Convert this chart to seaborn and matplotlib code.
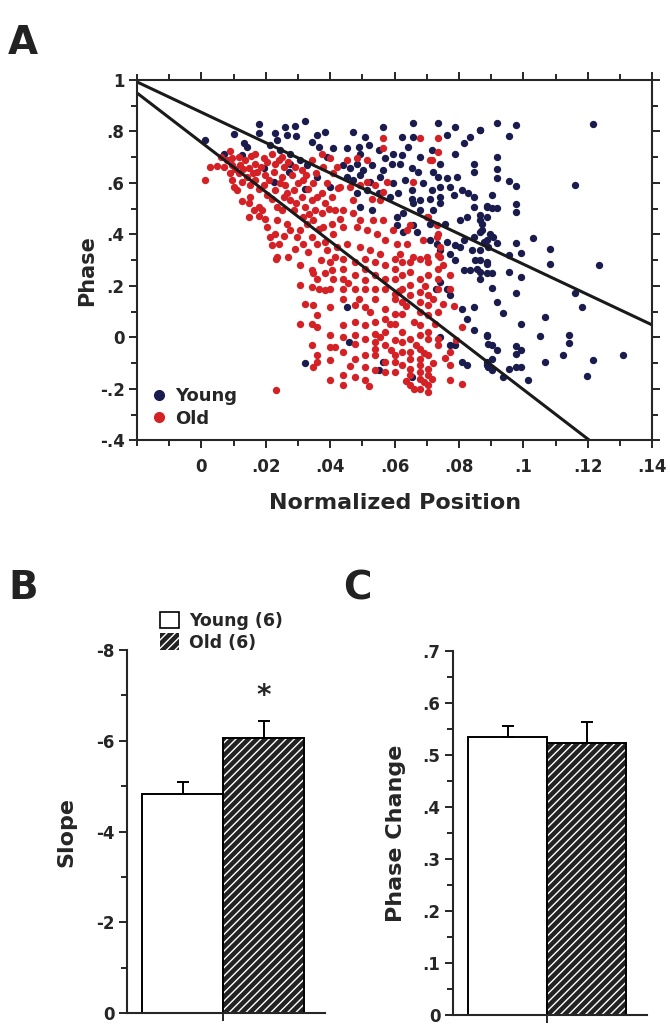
import numpy as np
import pandas as pd
import matplotlib
matplotlib.use("Agg")
import matplotlib.pyplot as plt
from matplotlib.ticker import MultipleLocator, FuncFormatter
from matplotlib.patches import Rectangle, Patch
from matplotlib.lines import Line2D
import seaborn as sns

# ---- panel A: phase vs normalized position ----
young_points = [
    (0.0012, 0.766), (0.0069, 0.714), (0.0100, 0.790), (0.0131, 0.753), (0.0142, 0.740), (0.0126, 0.708),
    (0.0178, 0.829), (0.0178, 0.795), (0.0214, 0.747), (0.0230, 0.795), (0.0235, 0.766), (0.0261, 0.818),
    (0.0266, 0.786), (0.0291, 0.821), (0.0295, 0.782), (0.0322, 0.842), (0.0276, 0.714), (0.0276, 0.675),
    (0.0245, 0.727), (0.0359, 0.786), (0.0385, 0.799), (0.0343, 0.760), (0.0364, 0.740), (0.0193, 0.656),
    (0.0224, 0.604), (0.0271, 0.643), (0.0322, 0.578), (0.0307, 0.688), (0.0328, 0.669), (0.0390, 0.701),
    (0.0410, 0.734), (0.0359, 0.624), (0.0400, 0.585),
    (0.0472, 0.799), (0.0509, 0.779), (0.0565, 0.818), (0.0622, 0.779), (0.0658, 0.831), (0.0658, 0.779),
    (0.0736, 0.831), (0.0762, 0.786), (0.0788, 0.818), (0.0834, 0.779), (0.0865, 0.805),
    (0.0452, 0.734), (0.0488, 0.740), (0.0493, 0.714), (0.0519, 0.747), (0.0550, 0.727), (0.0571, 0.695),
    (0.0596, 0.714), (0.0622, 0.708), (0.0643, 0.740), (0.0679, 0.701), (0.0715, 0.727), (0.0741, 0.675),
    (0.0788, 0.714), (0.0814, 0.753), (0.0845, 0.675), (0.0845, 0.643),
    (0.0441, 0.669), (0.0462, 0.656), (0.0483, 0.675), (0.0503, 0.650), (0.0529, 0.669), (0.0565, 0.650),
    (0.0591, 0.675), (0.0617, 0.675), (0.0653, 0.656), (0.0674, 0.643), (0.0720, 0.643), (0.0736, 0.624),
    (0.0762, 0.617), (0.0793, 0.624),
    (0.0452, 0.624), (0.0472, 0.611), (0.0493, 0.630), (0.0524, 0.604), (0.0555, 0.624), (0.0596, 0.598),
    (0.0633, 0.611), (0.0653, 0.572), (0.0689, 0.598), (0.0715, 0.572), (0.0741, 0.585), (0.0772, 0.585),
    (0.0808, 0.572), (0.0829, 0.559),
    (0.0483, 0.559), (0.0514, 0.572), (0.0550, 0.559), (0.0586, 0.546), (0.0612, 0.559), (0.0653, 0.539),
    (0.0679, 0.533), (0.0710, 0.539), (0.0741, 0.546), (0.0783, 0.552), (0.0845, 0.546), (0.0886, 0.507),
    (0.0493, 0.507), (0.0529, 0.494), (0.0607, 0.468), (0.0627, 0.481), (0.0658, 0.520), (0.0679, 0.494),
    (0.0720, 0.494), (0.0741, 0.520), (0.0845, 0.507),
    (0.0607, 0.436), (0.0627, 0.410), (0.0658, 0.436), (0.0669, 0.410), (0.0710, 0.442), (0.0757, 0.442),
    (0.0803, 0.455), (0.0824, 0.468), (0.0865, 0.455), (0.0886, 0.468),
    (0.0710, 0.377), (0.0731, 0.364), (0.0762, 0.371), (0.0788, 0.358), (0.0814, 0.377), (0.0845, 0.390),
    (0.0876, 0.371), (0.0891, 0.351),
    (0.0741, 0.338), (0.0772, 0.325), (0.0803, 0.351), (0.0839, 0.338), (0.0865, 0.338),
    (0.0788, 0.300), (0.0814, 0.261), (0.0850, 0.300), (0.0855, 0.267), (0.0865, 0.228), (0.0886, 0.293),
    (0.0834, 0.261), (0.0741, 0.215), (0.0730, 0.189), (0.0772, 0.163), (0.0762, 0.189), (0.0808, 0.111),
    (0.0845, 0.118), (0.0824, 0.073), (0.0845, 0.027), (0.0886, 0.008), (0.0891, -0.025), (0.0772, -0.031),
    (0.0788, -0.031), (0.0741, 0.001), (0.0808, -0.096), (0.0824, -0.109), (0.0886, -0.096), (0.0891, -0.115),
    (0.0565, -0.096), (0.0550, -0.128), (0.0457, -0.018), (0.0653, -0.154), (0.0452, 0.118), (0.0322, -0.100),
    (0.0865, 0.805), (0.0917, 0.831), (0.0977, 0.825), (0.0956, 0.782), (0.1217, 0.829),
    (0.0917, 0.702), (0.0917, 0.654), (0.0917, 0.620), (0.0956, 0.607), (0.0977, 0.588), (0.1160, 0.591),
    (0.0901, 0.553), (0.0886, 0.510), (0.0901, 0.501), (0.0917, 0.501), (0.0977, 0.518), (0.0977, 0.485),
    (0.0865, 0.475), (0.0870, 0.442), (0.0870, 0.416), (0.0865, 0.410), (0.0896, 0.403), (0.0906, 0.390),
    (0.0886, 0.377), (0.0917, 0.368), (0.1030, 0.384), (0.0977, 0.368), (0.1084, 0.342), (0.1084, 0.286),
    (0.0956, 0.321), (0.0992, 0.328), (0.1235, 0.280), (0.0865, 0.300), (0.0886, 0.286), (0.0865, 0.254),
    (0.0886, 0.250), (0.0901, 0.250), (0.0956, 0.254), (0.0992, 0.235), (0.0901, 0.193), (0.0977, 0.172),
    (0.0917, 0.139), (0.0937, 0.094), (0.0992, 0.053), (0.1160, 0.172), (0.1181, 0.118), (0.1068, 0.079),
    (0.1051, 0.004), (0.1141, 0.010), (0.1141, -0.022), (0.0886, 0.004), (0.0901, -0.031), (0.0917, -0.048),
    (0.0901, -0.083), (0.0886, -0.109), (0.0901, -0.128), (0.0937, -0.154), (0.0977, -0.035), (0.0977, -0.064),
    (0.0992, -0.048), (0.0956, -0.122), (0.0977, -0.115), (0.0992, -0.115), (0.1013, -0.165), (0.1068, -0.096),
    (0.1122, -0.070), (0.1196, -0.152), (0.1215, -0.089), (0.1310, -0.070),
]

old_points = [
    (0.0012, 0.611), (0.0028, 0.660), (0.0049, 0.665), (0.0069, 0.660),
    (0.0090, 0.725), (0.0095, 0.695), (0.0095, 0.669), (0.0090, 0.637), (0.0095, 0.611), (0.0100, 0.585),
    (0.0116, 0.701), (0.0121, 0.669), (0.0116, 0.637), (0.0126, 0.604), (0.0110, 0.572),
    (0.0136, 0.688), (0.0147, 0.656), (0.0142, 0.624), (0.0152, 0.591),
    (0.0167, 0.714), (0.0167, 0.675), (0.0173, 0.643), (0.0167, 0.611), (0.0178, 0.578),
    (0.0147, 0.520), (0.0162, 0.494), (0.0178, 0.507), (0.0147, 0.468), (0.0188, 0.494), (0.0198, 0.461),
    (0.0193, 0.695), (0.0198, 0.630), (0.0193, 0.591), (0.0204, 0.552),
    (0.0219, 0.714), (0.0230, 0.675), (0.0224, 0.643), (0.0230, 0.572), (0.0219, 0.539), (0.0235, 0.507),
    (0.0235, 0.455), (0.0214, 0.390), (0.0230, 0.403), (0.0219, 0.358), (0.0240, 0.364), (0.0235, 0.312),
    (0.0250, 0.701), (0.0255, 0.662), (0.0250, 0.624), (0.0261, 0.591), (0.0255, 0.546), (0.0250, 0.494),
    (0.0266, 0.442),
    (0.0281, 0.630), (0.0286, 0.572), (0.0276, 0.533), (0.0286, 0.494), (0.0276, 0.416), (0.0297, 0.390),
    (0.0307, 0.416),
    (0.0312, 0.650), (0.0317, 0.611), (0.0312, 0.546), (0.0322, 0.507), (0.0317, 0.468), (0.0328, 0.442),
    (0.0317, 0.364),
    (0.0343, 0.688), (0.0348, 0.598), (0.0343, 0.533), (0.0354, 0.494), (0.0348, 0.455), (0.0343, 0.390),
    (0.0359, 0.364),
    (0.0374, 0.714), (0.0379, 0.662), (0.0374, 0.559), (0.0385, 0.520), (0.0374, 0.481), (0.0379, 0.429),
    (0.0385, 0.371), (0.0390, 0.338),
    (0.0400, 0.695), (0.0410, 0.637), (0.0405, 0.546), (0.0416, 0.494), (0.0405, 0.442), (0.0410, 0.403),
    (0.0421, 0.351), (0.0416, 0.312),
    (0.0060, 0.700), (0.0080, 0.690), (0.0105, 0.655), (0.0130, 0.655), (0.0155, 0.705), (0.0160, 0.640),
    (0.0185, 0.660), (0.0205, 0.680), (0.0210, 0.610), (0.0240, 0.690), (0.0245, 0.600), (0.0270, 0.680),
    (0.0265, 0.560), (0.0290, 0.660), (0.0300, 0.600), (0.0295, 0.520), (0.0325, 0.630), (0.0330, 0.575),
    (0.0335, 0.480), (0.0355, 0.640), (0.0360, 0.545), (0.0365, 0.420), (0.0390, 0.600), (0.0395, 0.500),
    (0.0420, 0.660), (0.0425, 0.580), (0.0430, 0.460), (0.0150, 0.545), (0.0125, 0.530), (0.0180, 0.470),
    (0.0205, 0.430), (0.0255, 0.395), (0.0290, 0.345), (0.0330, 0.330), (0.0370, 0.300), (0.0385, 0.250),
    (0.0232, 0.306), (0.0268, 0.313), (0.0307, 0.280), (0.0307, 0.202), (0.0343, 0.261), (0.0346, 0.248),
    (0.0359, 0.228), (0.0343, 0.196), (0.0364, 0.189), (0.0385, 0.183), (0.0398, 0.189), (0.0322, 0.131),
    (0.0346, 0.124), (0.0359, 0.086), (0.0307, 0.053), (0.0343, 0.053), (0.0359, 0.040), (0.0398, 0.118),
    (0.0398, 0.008), (0.0400, -0.038), (0.0416, -0.038), (0.0343, -0.031), (0.0359, -0.070), (0.0346, -0.116),
    (0.0359, -0.096), (0.0398, -0.089), (0.0398, -0.167), (0.0232, -0.206), (0.0400, 0.293), (0.0405, 0.261),
    (0.0410, 0.228),
    (0.0441, 0.306), (0.0441, 0.267), (0.0441, 0.228), (0.0441, 0.189), (0.0441, 0.150), (0.0441, 0.047),
    (0.0441, 0.001), (0.0441, -0.057), (0.0441, -0.148), (0.0441, -0.187),
    (0.0478, 0.293), (0.0478, 0.241), (0.0478, 0.189), (0.0478, 0.124), (0.0478, 0.060), (0.0478, 0.008),
    (0.0478, -0.025), (0.0478, -0.083), (0.0478, -0.154),
    (0.0509, 0.306), (0.0509, 0.267), (0.0509, 0.222), (0.0509, 0.189), (0.0509, 0.118), (0.0509, 0.047),
    (0.0509, -0.005), (0.0509, -0.070), (0.0509, -0.115), (0.0509, -0.167),
    (0.0540, 0.293), (0.0540, 0.241), (0.0540, 0.189), (0.0540, 0.150), (0.0540, 0.060), (0.0540, 0.014),
    (0.0540, -0.018), (0.0540, -0.044), (0.0540, -0.070), (0.0540, -0.128),
    (0.0571, 0.280), (0.0571, 0.228), (0.0571, 0.189), (0.0571, 0.111), (0.0571, 0.073), (0.0571, 0.021),
    (0.0571, -0.031), (0.0571, -0.096), (0.0571, -0.135),
    (0.0602, 0.306), (0.0602, 0.267), (0.0602, 0.228), (0.0602, 0.170), (0.0602, 0.150), (0.0602, 0.092),
    (0.0602, 0.053), (0.0602, -0.012), (0.0602, -0.070), (0.0602, -0.096), (0.0602, -0.135),
    (0.0622, 0.293), (0.0622, 0.241), (0.0622, 0.189), (0.0622, 0.137), (0.0622, 0.092), (0.0622, 0.021),
    (0.0622, -0.018), (0.0622, -0.057), (0.0622, -0.109),
    (0.0648, 0.293), (0.0648, 0.254), (0.0648, 0.202), (0.0648, 0.163), (0.0648, -0.005), (0.0648, -0.057),
    (0.0648, -0.083), (0.0648, -0.122), (0.0648, -0.148), (0.0648, -0.187),
    (0.0679, 0.306), (0.0679, 0.228), (0.0679, 0.176), (0.0679, 0.137), (0.0679, 0.098), (0.0679, 0.047),
    (0.0679, 0.008), (0.0679, -0.044), (0.0679, -0.083), (0.0679, -0.109), (0.0679, -0.135), (0.0679, -0.161),
    (0.0679, -0.200),
    (0.0705, 0.293), (0.0705, 0.241), (0.0705, 0.163), (0.0705, 0.124), (0.0705, 0.086), (0.0705, 0.021),
    (0.0705, -0.005), (0.0705, -0.070), (0.0705, -0.122), (0.0705, -0.148), (0.0705, -0.187), (0.0705, -0.213),
    (0.0736, 0.319), (0.0736, 0.267), (0.0736, 0.228), (0.0736, 0.189), (0.0736, 0.098), (0.0736, -0.005),
    (0.0736, -0.031),
    (0.0772, 0.241), (0.0772, 0.189), (0.0772, -0.057), (0.0772, -0.109), (0.0772, -0.167),
    (0.0808, 0.040), (0.0808, -0.180),
    (0.0455, 0.210), (0.0490, 0.150), (0.0525, 0.100), (0.0555, 0.000), (0.0585, 0.050), (0.0590, -0.050),
    (0.0615, 0.180), (0.0635, 0.120), (0.0660, 0.060), (0.0665, -0.030), (0.0690, -0.060), (0.0695, 0.200),
    (0.0720, 0.150), (0.0725, 0.050), (0.0720, -0.100), (0.0715, -0.160), (0.0750, 0.130), (0.0755, -0.080),
    (0.0690, -0.175), (0.0660, -0.200), (0.0635, -0.170), (0.0460, -0.110), (0.0520, -0.190), (0.0750, 0.280),
    (0.0785, 0.120), (0.0790, -0.010),
    (0.0565, 0.773), (0.0679, 0.773), (0.0736, 0.773), (0.0736, 0.721), (0.0710, 0.688), (0.0658, 0.604),
    (0.0565, 0.734), (0.0452, 0.688), (0.0483, 0.695), (0.0514, 0.688),
    (0.0431, 0.585), (0.0462, 0.585), (0.0493, 0.591), (0.0514, 0.604), (0.0540, 0.591), (0.0565, 0.565),
    (0.0576, 0.604), (0.0472, 0.533), (0.0529, 0.539), (0.0555, 0.533),
    (0.0441, 0.494), (0.0472, 0.481), (0.0493, 0.455), (0.0534, 0.455), (0.0565, 0.455), (0.0596, 0.416),
    (0.0638, 0.416), (0.0648, 0.436), (0.0705, 0.468), (0.0731, 0.436),
    (0.0441, 0.429), (0.0483, 0.429), (0.0514, 0.416), (0.0545, 0.403), (0.0571, 0.377), (0.0607, 0.364),
    (0.0638, 0.364), (0.0689, 0.377), (0.0731, 0.390), (0.0741, 0.351),
    (0.0452, 0.364), (0.0493, 0.351), (0.0524, 0.338), (0.0555, 0.325), (0.0617, 0.325), (0.0658, 0.312),
    (0.0700, 0.312), (0.0741, 0.312), (0.0715, 0.689), (0.0700, 0.468), (0.0736, 0.403),
]

# regression lines: (intercept, slope)
young_fit = (0.874, -5.9)
old_fit = (0.757, -9.6)

# ---- panels B and C ----
groups = ["Young (6)", "Old (6)"]
slope_mean = [-4.82, -6.06]
slope_sem = [0.27, 0.37]
phase_change_mean = [0.535, 0.523]
phase_change_sem = [0.021, 0.040]

navy = "#1b1c4e"
red = "#d42126"
hatch_dark = "#222222"

sns.set_style("ticks")
plt.rcParams["font.family"] = ["DejaVu Sans"]
plt.rcParams["font.weight"] = "bold"
plt.rcParams["hatch.linewidth"] = 1.0
plt.rcParams["axes.linewidth"] = 1.5


def no_lead(v, pos):
    s = "%g" % round(v, 3)
    if s.startswith("0.") or s.startswith("-0."):
        s = s.replace("0.", ".", 1)
    return s


fig = plt.figure(figsize=(6.7, 10.24), dpi=100)

# ---------------- A ----------------
axA = fig.add_axes([0.2045, 0.570, 0.769, 0.352])
young_df = pd.DataFrame(young_points, columns=["pos", "phase"])
old_df = pd.DataFrame(old_points, columns=["pos", "phase"])
sns.scatterplot(data=young_df, x="pos", y="phase", color=navy, s=28, linewidth=0, ax=axA, legend=False)
sns.scatterplot(data=old_df, x="pos", y="phase", color=red, s=28, linewidth=0, ax=axA, legend=False)

xs = np.array([-0.02, 0.14])
for b0, b1 in [young_fit, old_fit]:
    sns.lineplot(x=xs, y=b0 + b1 * xs, color="#1a1a1a", linewidth=2.2, ax=axA, legend=False)

axA.set_xlim(-0.02, 0.14)
axA.set_ylim(-0.4, 1.0)
axA.xaxis.set_major_locator(MultipleLocator(0.02))
axA.xaxis.set_minor_locator(MultipleLocator(0.01))
axA.yaxis.set_major_locator(MultipleLocator(0.2))
axA.yaxis.set_minor_locator(MultipleLocator(0.1))
axA.xaxis.set_major_formatter(FuncFormatter(no_lead))
axA.yaxis.set_major_formatter(FuncFormatter(no_lead))
axA.set_xticks([0, 0.02, 0.04, 0.06, 0.08, 0.1, 0.12, 0.14])
axA.tick_params(which="both", direction="out", top=True, right=True, width=1.4, labelsize=12)
axA.tick_params(which="major", length=6, pad=3)
axA.tick_params(which="minor", length=4)
axA.tick_params(axis="x", pad=7)
for lab in axA.get_xticklabels() + axA.get_yticklabels():
    lab.set_fontweight("bold")
axA.set_xlabel("Normalized Position", fontsize=16, fontweight="bold", labelpad=12)
axA.set_ylabel("Phase", fontsize=15, fontweight="bold")
axA.yaxis.set_label_coords(-0.078, 0.47)

handles = [Line2D([], [], marker="o", linestyle="", color=navy, markersize=7),
           Line2D([], [], marker="o", linestyle="", color=red, markersize=7)]
axA.legend(handles, ["Young", "Old"], loc="lower left", frameon=False, handletextpad=0.4,
           labelspacing=0.25, borderaxespad=0.3, handlelength=1.0,
           prop={"weight": "bold", "size": 13})

# ---------------- B ----------------
axB = fig.add_axes([0.1896, 0.0107, 0.2955, 0.3545])
sns.barplot(x=groups, y=slope_mean, width=1.0, color="white", edgecolor="black",
            linewidth=1.4, ax=axB, errorbar=None)
# ---------------- C ----------------
axC = fig.add_axes([0.676, 0.0088, 0.2896, 0.3555])
sns.barplot(x=groups, y=phase_change_mean, width=1.0, color="white", edgecolor="black",
            linewidth=1.4, ax=axC, errorbar=None)

for ax in [axB, axC]:
    p = ax.patches[1]
    p.set_facecolor(hatch_dark)
    p.set_edgecolor("white")
    p.set_hatch("////")
    p.set_linewidth(0)
    ax.add_patch(Rectangle(p.get_xy(), p.get_width(), p.get_height(), fill=False,
                           edgecolor="black", linewidth=1.4, zorder=p.get_zorder() + 0.1))
    ax.patches[0].set_facecolor("white")
    sns.despine(ax=ax)
    ax.set_xticks([0.5])
    ax.set_xticklabels([""])
    ax.set_xlabel("")
    ax.tick_params(which="both", direction="out", width=1.4, labelsize=12)
    ax.tick_params(which="major", length=6, pad=3)
    ax.tick_params(which="minor", length=4)
    ax.set_xlim(-0.69, 1.76)

# B error bars point up on the inverted axis
axB.errorbar([0, 1], slope_mean, yerr=[slope_sem, [0, 0]], fmt="none", ecolor="black",
             elinewidth=1.4, capsize=4, capthick=1.4, zorder=5)
axB.set_ylim(0, -8)
axB.yaxis.set_major_locator(MultipleLocator(2))
axB.yaxis.set_minor_locator(MultipleLocator(1))
axB.yaxis.set_major_formatter(FuncFormatter(no_lead))
axB.set_ylabel("Slope", fontsize=16, fontweight="bold", labelpad=14)
axB.text(1, slope_mean[1] - slope_sem[1] - 0.55, "*", ha="center", va="center",
         fontsize=20, fontweight="bold")
legB = [Patch(facecolor="white", edgecolor="black", linewidth=1.2),
        Patch(facecolor=hatch_dark, edgecolor="white", hatch="////", linewidth=0)]
axB.legend(legB, groups, loc="upper left", bbox_to_anchor=(0.13, 1.125), frameon=False,
           handlelength=1.1, handleheight=1.1, handletextpad=0.6, labelspacing=0.2,
           borderaxespad=0, prop={"weight": "bold", "size": 12.5})

axC.errorbar([0, 1], phase_change_mean, yerr=[[0, 0], phase_change_sem], fmt="none", ecolor="black",
             elinewidth=1.4, capsize=4, capthick=1.4, zorder=5)
axC.set_ylim(0, 0.7)
axC.yaxis.set_major_locator(MultipleLocator(0.1))
axC.yaxis.set_minor_locator(MultipleLocator(0.05))
axC.yaxis.set_major_formatter(FuncFormatter(no_lead))
axC.set_ylabel("Phase Change", fontsize=16, fontweight="bold", labelpad=12)

for ax in [axB, axC]:
    for lab in ax.get_yticklabels():
        lab.set_fontweight("bold")

fig.text(0.012, 0.947, "A", fontsize=28, fontweight="heavy", color="#222222")
fig.text(0.012, 0.415, "B", fontsize=28, fontweight="heavy", color="#222222")
fig.text(0.512, 0.415, "C", fontsize=28, fontweight="heavy", color="#222222")

fig.savefig("out.png", dpi=100)
